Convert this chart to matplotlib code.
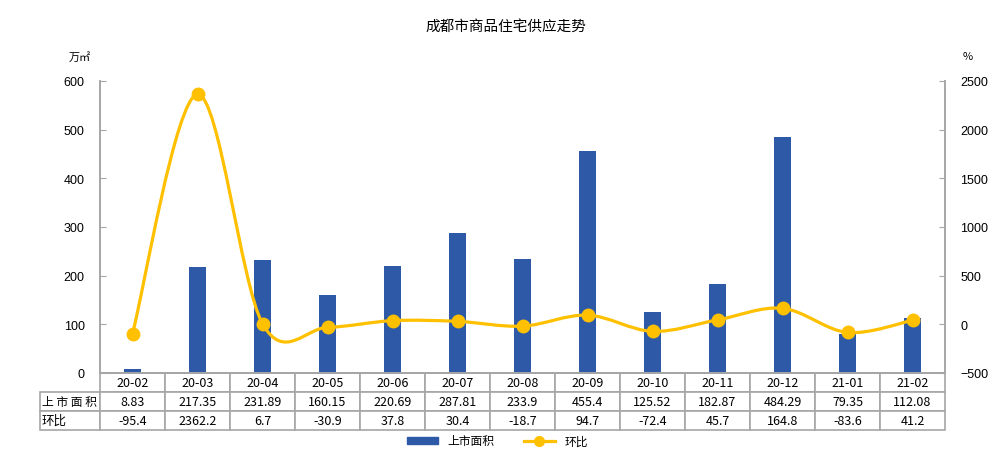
import numpy as np
import matplotlib
matplotlib.use('Agg')
import matplotlib.pyplot as plt
from matplotlib.path import Path
from matplotlib.patches import PathPatch
from matplotlib.lines import Line2D

plt.rcParams['font.family'] = ['Noto Sans CJK SC', 'DejaVu Sans']

months = ['20-02', '20-03', '20-04', '20-05', '20-06', '20-07', '20-08',
          '20-09', '20-10', '20-11', '20-12', '21-01', '21-02']
area = [8.83, 217.35, 231.89, 160.15, 220.69, 287.81, 233.9, 455.4,
        125.52, 182.87, 484.29, 79.35, 112.08]
ratio = [-95.4, 2362.2, 6.7, -30.9, 37.8, 30.4, -18.7, 94.7,
         -72.4, 45.7, 164.8, -83.6, 41.2]
area_txt = ['8.83', '217.35', '231.89', '160.15', '220.69', '287.81', '233.9',
            '455.4', '125.52', '182.87', '484.29', '79.35', '112.08']
ratio_txt = ['-95.4', '2362.2', '6.7', '-30.9', '37.8', '30.4', '-18.7',
             '94.7', '-72.4', '45.7', '164.8', '-83.6', '41.2']

BAR = '#2E59A7'
LINE = '#FFC000'
GRAY = '#A6A6A6'

W, H = 995, 452
fig = plt.figure(figsize=(W / 100, H / 100), dpi=100)
L, R, T, B = 100, 945, 82, 374
ax = fig.add_axes([L / W, 1 - B / H, (R - L) / W, (B - T) / H])
ax2 = ax.twinx()

x = np.arange(len(months))
ax.bar(x, area, width=0.25, color=BAR, zorder=2)
ax.set_xlim(-0.5, len(months) - 0.5)
ax.set_ylim(0, 600)
ax.set_yticks(range(0, 601, 100))
ax2.set_ylim(-500, 2500)
ax2.set_yticks(range(-500, 2501, 500))

# smooth line (bezier through the data points, Excel-like smoothing)
pts = np.column_stack([x, ratio]).astype(float)
verts = [pts[0]]
codes = [Path.MOVETO]
n = len(pts)
for i in range(n - 1):
    p0 = pts[i - 1] if i > 0 else pts[i]
    p1 = pts[i]
    p2 = pts[i + 1]
    p3 = pts[i + 2] if i + 2 < n else pts[i + 1]
    c1 = p1 + (p2 - p0) / 6
    c2 = p2 - (p3 - p1) / 6
    verts += [c1, c2, p2]
    codes += [Path.CURVE4] * 3
ax2.add_patch(PathPatch(Path(verts, codes), facecolor='none', edgecolor=LINE,
                        lw=2.3, zorder=3))
ax2.plot(x, ratio, 'o', color=LINE, markersize=9, zorder=4)

for a in (ax, ax2):
    a.spines['top'].set_visible(False)
    for s in ('left', 'right', 'bottom'):
        a.spines[s].set_color(GRAY)
        a.spines[s].set_linewidth(1.2)
    a.tick_params(axis='y', direction='in', length=4, color=GRAY,
                  labelsize=9, pad=11)
for lab in ax.get_yticklabels() + ax2.get_yticklabels():
    lab.set_fontfamily('Liberation Sans')
ax.set_xticks([])
ax2.set_xticks([])

# data table below the axes
col_w = (R - L) / len(months)
hdr_w = 60
cells = [[''] + months, ['上市面积'] + area_txt, ['环比'] + ratio_txt]
widths = [hdr_w / (R - L)] + [col_w / (R - L)] * len(months)
row_h = 19
tbl = ax.table(cellText=cells, colWidths=widths, cellLoc='center',
               bbox=[-hdr_w / (R - L), -3 * row_h / (B - T),
                     1 + hdr_w / (R - L), 3 * row_h / (B - T)])
tbl.auto_set_font_size(False)
tbl.set_fontsize(9)
for (r, c), cell in tbl.get_celld().items():
    cell.set_edgecolor(GRAY)
    cell.set_linewidth(1.2)
    if c == 0:
        cell.get_text().set_ha('left')
        cell._loc = 'left'
        cell.PAD = 0.03
        if r == 0:
            cell.visible_edges = ''
    if c == 0 and r == 1:
        cell.get_text().set_text('上 市 面 积')
        cell.get_text().set_fontsize(8.5)

fig.text(0.508, 1 - 27 / H, '成都市商品住宅供应走势', ha='center', va='center',
         fontsize=10.5)
fig.text(80 / W, 1 - 57 / H, '万㎡', ha='center', va='center', fontsize=8)
fig.text(968 / W, 1 - 57 / H, '%', ha='center', va='center', fontsize=8)

handles = [plt.Rectangle((0, 0), 1, 1, color=BAR),
           Line2D([], [], color=LINE, lw=2.3, marker='o', markersize=7)]
fig.legend(handles, ['上市面积', '环比'], loc='center',
           bbox_to_anchor=(0.5, 1 - 442 / H), ncol=2, frameon=False,
           fontsize=8.5, handlelength=2.6, columnspacing=2.5,
           borderpad=0, handleheight=0.6)

fig.savefig('out.png', dpi=100)
